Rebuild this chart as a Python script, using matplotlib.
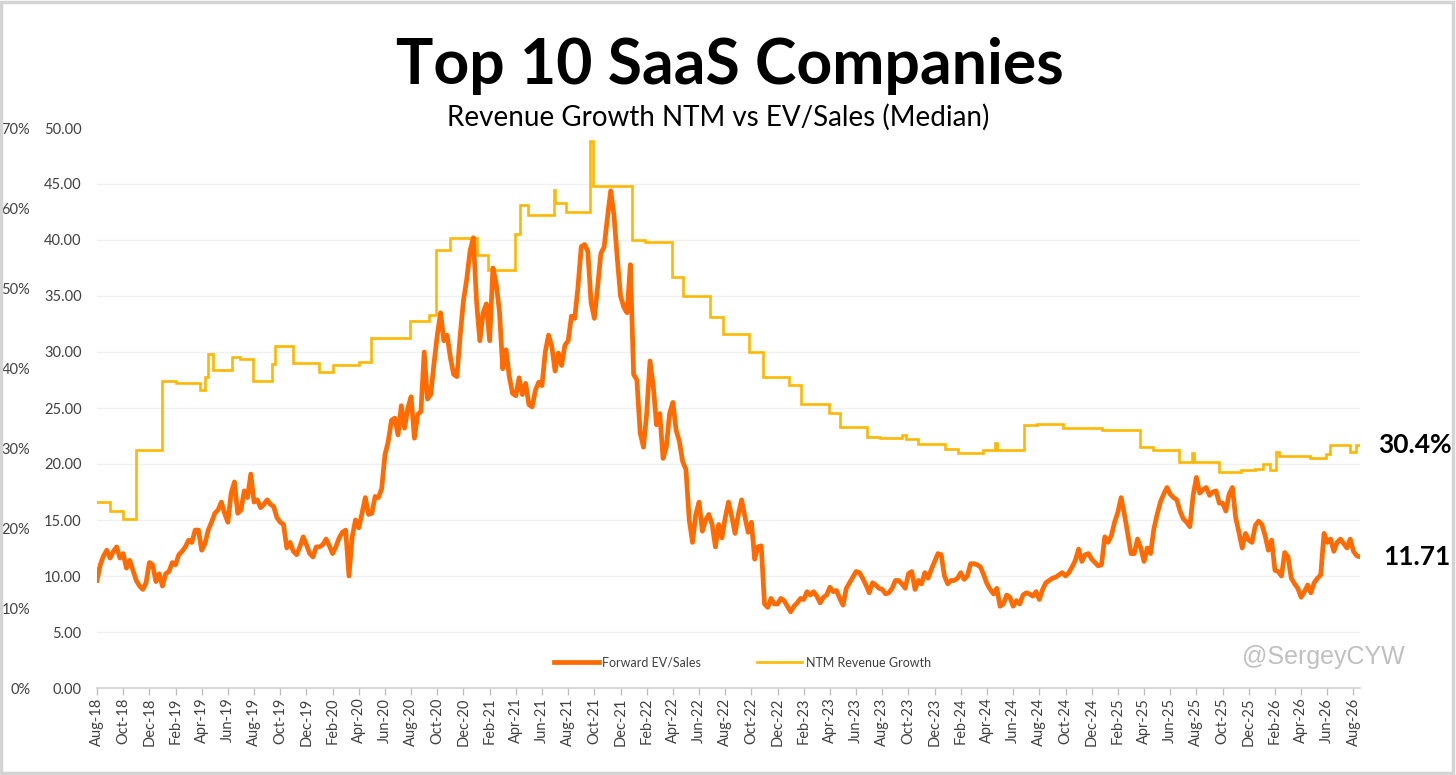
import numpy as np
import pandas as pd
import matplotlib
matplotlib.use("Agg")
import matplotlib.pyplot as plt
from matplotlib.patches import Rectangle

plt.rcParams['font.family'] = ['Lato', 'DejaVu Sans']

# Forward EV/Sales, one reading every quarter month starting Aug-2018 (one row = 2 months)
ev_sales = [
    9.6, 11.0, 11.8, 12.3, 11.6, 12.2, 12.6, 11.6,
    12.0, 10.7, 11.4, 10.5, 9.6, 9.1, 8.8, 9.4,
    11.2, 11.0, 9.5, 10.2, 9.1, 10.2, 10.4, 11.2,
    11.0, 11.9, 12.2, 12.6, 13.2, 13.0, 14.1, 14.1,
    12.3, 12.9, 14.1, 14.8, 15.6, 15.9, 16.6, 15.6,
    14.8, 17.4, 18.4, 15.6, 15.9, 17.6, 17.0, 19.1,
    16.6, 16.8, 16.1, 16.4, 16.8, 16.4, 16.2, 15.2,
    14.8, 14.6, 12.5, 13.0, 12.2, 11.9, 12.6, 13.5,
    12.8, 12.0, 11.7, 12.6, 12.6, 12.8, 13.3, 12.7,
    12.0, 12.6, 13.4, 13.9, 14.1, 10.0, 13.5, 15.0,
    14.3, 15.6, 17.0, 15.5, 15.6, 17.1, 17.0, 17.8,
    20.8, 22.0, 23.9, 24.1, 22.6, 25.2, 23.2, 25.0,
    26.0, 22.3, 24.4, 24.7, 30.0, 25.8, 26.2, 29.0,
    31.5, 33.5, 31.0, 31.5, 29.5, 28.0, 27.8, 31.5,
    34.6, 36.5, 39.0, 40.2, 34.5, 31.0, 33.5, 34.3,
    31.0, 37.5, 36.1, 33.6, 28.5, 30.2, 27.8, 26.3,
    26.1, 27.7, 26.2, 27.2, 25.3, 25.1, 26.6, 27.3,
    27.0, 30.0, 31.5, 30.5, 28.3, 29.9, 28.8, 30.6,
    31.0, 33.2, 33.0, 35.8, 39.4, 39.6, 39.0, 34.4,
    33.0, 35.8, 38.8, 39.4, 42.0, 44.4, 42.2, 38.4,
    35.0, 34.0, 33.5, 37.8, 28.0, 27.5, 22.8, 21.5,
    24.5, 29.2, 27.0, 23.5, 24.5, 20.5, 21.5, 24.5,
    25.5, 23.0, 22.0, 20.2, 19.5, 15.0, 13.0, 15.5,
    16.6, 14.0, 15.0, 15.5, 14.6, 12.6, 14.6, 13.4,
    15.2, 16.6, 15.3, 13.8, 15.5, 16.8, 15.3, 13.9,
    14.8, 11.5, 12.6, 12.7, 7.5, 7.2, 8.0, 7.5,
    7.5, 8.0, 7.8, 7.3, 6.8, 7.3, 7.6, 8.0,
    7.9, 8.6, 8.3, 8.6, 8.2, 7.6, 8.1, 8.3,
    9.0, 8.6, 8.7, 8.0, 7.4, 8.9, 9.4, 9.9,
    10.4, 10.3, 9.8, 9.2, 8.5, 9.4, 9.2, 8.9,
    8.8, 8.4, 8.5, 8.9, 9.6, 9.6, 9.3, 8.9,
    10.2, 10.4, 8.8, 9.6, 9.3, 10.3, 9.8, 10.6,
    11.3, 12.0, 11.9, 10.0, 9.3, 9.6, 9.6, 9.8,
    10.3, 9.7, 10.0, 11.1, 11.1, 11.0, 10.8, 10.1,
    9.3, 8.8, 8.4, 8.9, 7.3, 7.5, 8.3, 8.1,
    7.3, 7.8, 7.5, 8.3, 8.5, 8.4, 8.2, 8.6,
    7.9, 8.8, 9.4, 9.6, 9.8, 9.9, 10.1, 10.3,
    10.0, 10.3, 10.8, 11.4, 12.4, 11.3, 11.9, 12.0,
    11.5, 11.2, 10.9, 11.0, 13.5, 13.0, 13.6, 14.8,
    15.7, 17.0, 15.5, 13.8, 12.0, 12.0, 13.3, 12.5,
    11.3, 12.5, 12.0, 14.2, 15.5, 16.6, 17.3, 17.9,
    17.3, 17.0, 16.8, 15.8, 15.1, 14.8, 14.4, 17.2,
    18.8, 17.4, 17.7, 17.9, 17.2, 17.5, 17.6, 16.5,
    16.5, 15.8, 17.3, 17.9, 15.2, 13.9, 12.5, 13.8,
    13.2, 13.0, 14.5, 14.9, 14.6, 13.6, 12.3, 13.2,
    10.5, 10.4, 10.0, 12.1, 11.7, 9.8, 9.3, 8.9,
    8.1, 8.6, 9.2, 8.5, 9.4, 9.8, 10.1, 13.8,
    13.0, 13.3, 12.2, 13.0, 13.3, 12.9, 12.5, 13.3,
    12.2, 11.8, 11.71,
]
ev_months = np.arange(len(ev_sales)) * 0.25

# NTM revenue growth (%), step changes: months since Aug-2018 -> value
ntm_months = [
    0, 1.0, 2.0, 3.0, 5.0, 6.0, 7.9, 8.25, 8.5, 8.9,
    10.3, 10.9, 11.9, 13.4, 13.6, 15.0, 17.0, 18.0, 20.0, 20.9,
    23.9, 25.4, 25.9, 27.0, 29.0, 29.9, 31.9, 32.3, 32.9, 34.9,
    35.0, 35.8, 37.7, 37.9, 40.9, 41.9, 43.9, 44.8, 46.8, 47.8,
    49.8, 50.9, 52.9, 53.8, 55.9, 56.8, 58.8, 59.8, 61.5, 61.8,
    62.7, 64.8, 65.8, 67.7, 68.6, 68.75, 70.8, 71.8, 73.8, 76.8,
    79.7, 80.7, 82.7, 83.7, 83.8, 85.7, 87.4, 88.5, 89.1, 89.6,
    90.1, 90.3, 92.7, 93.9, 94.2, 95.7, 96.2, 96.5,
]
ntm_growth = [
    23.3, 22.1, 21.1, 29.75, 38.4, 38.1, 37.25, 38.9, 41.8, 39.7,
    41.4, 41.1, 38.4, 40.5, 42.75, 40.6, 39.5, 40.4, 40.8, 43.8,
    45.9, 46.6, 54.8, 56.2, 54.1, 52.3, 56.8, 60.4, 59.1, 62.25,
    60.6, 59.5, 68.4, 62.75, 56.0, 55.8, 51.4, 49.0, 46.4, 44.2,
    42.0, 38.9, 37.9, 35.5, 34.4, 32.6, 31.4, 31.2, 31.6, 31.1,
    30.5, 29.9, 29.4, 29.7, 30.6, 29.75, 32.9, 33.0, 32.5, 32.25,
    30.1, 29.75, 28.3, 29.4, 28.3, 27.0, 27.2, 27.4, 28.0, 27.2,
    29.5, 29.0, 28.7, 29.3, 30.4, 29.5, 30.4, 30.4,
]

tick_months = np.arange(0, 97, 2)
tick_labels = pd.date_range("2018-08-01", periods=len(tick_months), freq="2MS").strftime("%b-%y")

ev_ticks = np.arange(0, 50.1, 5)
pct_ticks = np.arange(0, 70.1, 10)

orange = "#FF6B00"
gold = "#FFB800"
grey_txt = "#404040"

fig = plt.figure(figsize=(14.56, 7.75), dpi=100)
fig.patches.append(Rectangle((0.001, 0.002), 0.997, 0.995, transform=fig.transFigure,
                             fill=False, edgecolor="#d4d4d4", linewidth=2.5))

ax_pct = fig.add_axes([97 / 1456, 1 - 688 / 775, 1263 / 1456, 560 / 775])
ax_ev = ax_pct.twinx()

# percent axis: yellow line and the grid (minor ticks line up with EV/Sales steps)
ax_pct.plot(ntm_months, ntm_growth, color=gold, lw=1.9, drawstyle="steps-post",
            label="NTM Revenue Growth", solid_joinstyle="miter")
ax_pct.set_ylim(0, 70)
ax_pct.set_yticks(pct_ticks)
ax_pct.set_yticklabels([f"{int(v)}%" for v in pct_ticks])
ax_pct.set_yticks(ev_ticks * 70 / 50, minor=True)
ax_pct.grid(True, which="minor", axis="y", color="#f0f0f0", lw=1)
ax_pct.tick_params(axis="y", which="both", length=0, pad=48, labelsize=10.5, labelcolor=grey_txt)

# EV/Sales axis
ax_ev.plot(ev_months, ev_sales, color=orange, lw=3.4, label="Forward EV/Sales",
           solid_joinstyle="round")
ax_ev.set_ylim(0, 50)
ax_ev.set_yticks(ev_ticks)
ax_ev.set_yticklabels([f"{v:.2f}" for v in ev_ticks])
ax_ev.yaxis.tick_left()
ax_ev.tick_params(axis="y", length=0, pad=11, labelsize=10.5, labelcolor=grey_txt)

ax_pct.set_xlim(0, 96.5)
ax_pct.set_xticks(tick_months)
ax_pct.set_xticklabels(tick_labels, rotation=90)
ax_pct.tick_params(axis="x", length=5, width=1, color="#bfbfbf", pad=2,
                   labelsize=10.5, labelcolor=grey_txt)

for a in (ax_pct, ax_ev):
    for s in ("top", "left", "right"):
        a.spines[s].set_visible(False)
    a.spines["bottom"].set_color("#d0d0d0")
    a.spines["bottom"].set_linewidth(1.2)
ax_ev.spines["bottom"].set_visible(False)

# end-of-line value labels
ax_pct.annotate(f"{ntm_growth[-1]}%", xy=(ntm_months[-1], ntm_growth[-1]), xytext=(13, 0),
                textcoords="offset points", va="center", ha="left",
                fontsize=19, fontweight="bold", color="black", annotation_clip=False)
ax_ev.annotate(f"{ev_sales[-1]:.2f}", xy=(ev_months[-1], ev_sales[-1]), xytext=(17, 0),
               textcoords="offset points", va="center", ha="left",
               fontsize=19, fontweight="bold", color="black", annotation_clip=False)

h1, l1 = ax_ev.get_legend_handles_labels()
h2, l2 = ax_pct.get_legend_handles_labels()
ax_ev.legend(h1 + h2, l1 + l2, loc="center", bbox_to_anchor=(0.511, 0.045), ncol=2,
             frameon=False, fontsize=9, handlelength=3.6, columnspacing=4.5,
             handletextpad=0.3, labelcolor=grey_txt)

fig.text(0.5015, 1 - 66 / 775, "Top 10 SaaS Companies", ha="center", va="center",
         fontsize=45, fontweight="bold", color="black")
fig.text(0.4935, 1 - 117 / 775, "Revenue Growth NTM vs EV/Sales (Median)", ha="center",
         va="center", fontsize=20, color="black")
fig.text(1405 / 1456, 1 - 657 / 775, "@SergeyCYW", ha="right", va="center",
         fontsize=18, color="#c0c0c0", family="Liberation Sans")

fig.savefig("out.png", dpi=100)
